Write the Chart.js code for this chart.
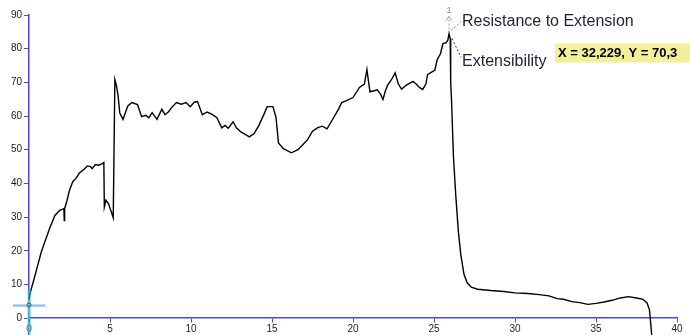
<!DOCTYPE html>
<html>
<head>
<meta charset="utf-8">
<script src="https://cdn.jsdelivr.net/npm/chart.js@4"></script>
<style>
  html, body { margin: 0; padding: 0; background: #fff; }
  #wrap { width: 690px; height: 335px; position: relative; }
</style>
</head>
<body>
<div id="wrap"><canvas id="curve"></canvas></div>
<script>
// extension (x) and force (y)
var extension = [0, 0.1, 0.25, 0.5, 0.75, 1.0, 1.3, 1.6, 1.9, 2.15, 2.18, 2.2, 2.35, 2.5, 2.7, 2.9, 3.1, 3.4, 3.6, 3.8, 3.9, 4.1, 4.3, 4.5, 4.62,
  4.65, 4.75, 4.9, 5.05, 5.2, 5.3, 5.4, 5.5, 5.6, 5.8, 6.1, 6.35, 6.7, 6.95, 7.2, 7.4, 7.6, 7.9, 8.2, 8.4, 8.6, 8.8, 9.1, 9.4, 9.7, 9.95,
  10.2, 10.4, 10.7, 11.0, 11.3, 11.6, 11.9, 12.1, 12.3, 12.6, 12.8, 13.1, 13.4, 13.6, 13.9, 14.2, 14.5, 14.7, 15.06, 15.25, 15.4, 15.7,
  16.2, 16.6, 16.9, 17.2, 17.5, 17.8, 18.1, 18.4, 18.8, 19.1, 19.3, 19.6, 20.0, 20.4, 20.7, 20.86, 20.95, 21.05, 21.3, 21.5, 21.7, 21.85,
  22.0, 22.15, 22.4, 22.6, 22.8, 23.0, 23.3, 23.7, 23.9, 24.1, 24.3, 24.5, 24.6, 24.9, 25.05, 25.2, 25.4, 25.55, 25.75, 25.85, 25.93,
  26.0, 26.03, 26.08, 26.2, 26.35, 26.5, 26.65, 26.85, 27.05, 27.3, 27.7, 28.5, 29.3, 30.0, 30.8, 31.5, 32.1, 32.6, 33.0, 33.5, 34.0,
  34.5, 35.0, 35.5, 36.0, 36.5, 37.0, 37.5, 37.9, 38.15, 38.3, 38.45];
var force = [5.5, 8, 10.5, 15, 19.5, 23, 27, 30.5, 32, 32.5, 29, 32.5, 35, 38, 40.5, 41.5, 43, 44.2, 45.2, 45, 44.4, 45.6, 45.4, 45.8, 46.2,
  33, 35, 34, 32, 29.8, 70.8, 69, 66, 61, 59, 63, 64, 63.4, 59.8, 60.2, 59.5, 61, 59, 62, 60.4, 61.2, 62.5, 64, 63.5, 64, 62.8,
  64.1, 64.3, 60.4, 61.2, 60.5, 59.5, 56.5, 57.2, 56.4, 58.3, 56.5, 55.2, 54.4, 53.8, 54.8, 57.3, 60.5, 62.8, 62.8, 59.5, 52, 50.3,
  49.1, 50, 51.5, 53, 55.5, 56.5, 57, 56.2, 59.5, 62, 64, 64.6, 65.5, 68.5, 69.5, 73.8, 70.5, 67.2, 67.5, 67.8, 66.5, 64.9,
  67.5, 69.3, 71, 72.8, 69.5, 68, 69.2, 70.3, 69.5, 68.5, 67.9, 69.5, 72.3, 73.2, 73.6, 76.8, 78.5, 81.5, 81.8, 82.5, 84.5,
  83, 70, 65, 48, 36, 26, 19, 13, 10.5, 9.2, 8.6, 8.2, 7.9, 7.5, 7.3, 7.0, 6.6, 5.8, 5.6, 4.9, 4.6,
  4.1, 4.4, 4.8, 5.3, 6.0, 6.4, 6.0, 5.6, 4.5, 2.5, -5.5];

var xTicks = [0, 5, 10, 15, 20, 25, 30, 35, 40];
var yTicks = [0, 10, 20, 30, 40, 50, 60, 70, 80, 90];

var peakLabel = 'Resistance to Extension';
var extLabel = 'Extensibility';
var cursorText = 'X = 32,229, Y = 70,3';
var cursorPoint = { x: 0, y: 3.9 };

var axisBlue = '#4646f5';
var fontFam = "'Liberation Sans', Arial, sans-serif";

var punti = extension.map(function(v, i) { return { x: v, y: force[i] }; });

// annotations: peak marker, labels, yellow readout, cursor cross
var notas = {
    id: 'notas',
    afterDatasetsDraw: function(chart) {
        var c = chart.ctx;
        var sx = chart.scales.x, sy = chart.scales.y;
        var iMax = 0;
        force.forEach(function(v, i) { if (v > force[iMax]) iMax = i; });
        var px = sx.getPixelForValue(extension[iMax]);
        var py = sy.getPixelForValue(force[iMax]);

        c.save();
        // marker arrow with "1"
        c.strokeStyle = '#999';
        c.lineWidth = 1;
        c.setLineDash([2, 2]);
        c.beginPath();
        c.moveTo(px, py); c.lineTo(px, py - 17);
        c.stroke();
        c.setLineDash([]);
        c.beginPath();
        c.moveTo(px - 3, py - 13); c.lineTo(px, py - 17); c.lineTo(px + 3, py - 13);
        c.stroke();
        c.fillStyle = '#888';
        c.font = '9px ' + fontFam;
        c.textAlign = 'center';
        c.textBaseline = 'middle';
        c.fillText('1', px, py - 23);

        // leader lines
        c.setLineDash([2, 2]);
        c.strokeStyle = '#888';
        c.beginPath();
        c.moveTo(px + 2, py - 3); c.lineTo(px + 12, py - 12);
        c.stroke();
        c.strokeStyle = '#333';
        c.beginPath();
        c.moveTo(px + 3, py + 5); c.lineTo(px + 12, py + 24);
        c.stroke();
        c.setLineDash([]);

        c.fillStyle = '#1f1f3a';
        c.font = '16px ' + fontFam;
        c.textAlign = 'left';
        c.fillText(peakLabel, px + 13, py - 12);
        c.fillText(extLabel, px + 13, py + 28);

        // yellow readout box
        c.fillStyle = '#f3f09c';
        c.fillRect(px + 106, py + 10, 200, 19);
        c.fillStyle = '#000';
        c.font = 'bold 13px ' + fontFam;
        c.fillText(cursorText, px + 109, py + 20);

        // cursor cross
        var cx = sx.getPixelForValue(cursorPoint.x);
        var cy = sy.getPixelForValue(cursorPoint.y);
        c.lineWidth = 1;
        c.strokeStyle = '#e060f0';
        c.beginPath(); c.moveTo(cx - 16, cy + 1); c.lineTo(cx + 16, cy + 1); c.stroke();
        c.strokeStyle = '#20d8f0';
        c.beginPath(); c.moveTo(cx - 16, cy); c.lineTo(cx + 16, cy); c.stroke();
        c.strokeStyle = '#70ff70';
        c.beginPath(); c.moveTo(cx - 1, cy - 15); c.lineTo(cx - 1, cy + 28); c.stroke();
        c.strokeStyle = '#20d8f0';
        c.beginPath(); c.moveTo(cx + 1, cy - 15); c.lineTo(cx + 1, cy + 28); c.stroke();
        c.strokeStyle = '#555';
        c.beginPath(); c.arc(cx, cy, 2, 0, Math.PI * 2); c.stroke();
        c.restore();
    }
};

document.addEventListener('DOMContentLoaded', function() {
    var ctx = document.getElementById('curve').getContext('2d');

    new Chart(ctx, {
        type: 'scatter',
        data: {
            datasets: [{
                data: punti,
                showLine: true,
                borderColor: '#000',
                borderWidth: 1.4,
                pointRadius: 0,
                tension: 0,
                clip: false
            }]
        },
        options: {
            responsive: true,
            maintainAspectRatio: false,
            animation: false,
            layout: { padding: { top: 15, right: 13, bottom: 0, left: 0 } },
            plugins: {
                legend: { display: false },
                tooltip: { enabled: false }
            },
            scales: {
                x: {
                    type: 'linear',
                    position: { y: 0 },
                    min: 0,
                    max: 40,
                    afterBuildTicks: function(s) { s.ticks = xTicks.map(function(v) { return { value: v }; }); },
                    afterFit: function(s) { s.paddingLeft = 0; s.paddingRight = 0; s.paddingTop = 0; s.paddingBottom = 0; },
                    border: { color: axisBlue, width: 1.5 },
                    grid: { drawOnChartArea: false, color: axisBlue, tickLength: 4 },
                    ticks: { color: '#222', padding: 1, font: { size: 10, family: fontFam }, maxRotation: 0 }
                },
                y: {
                    min: -5,
                    max: 90,
                    afterBuildTicks: function(s) { s.ticks = yTicks.map(function(v) { return { value: v }; }); },
                    afterFit: function(s) { s.width = 29; s.paddingTop = 0; s.paddingBottom = 0; },
                    border: { color: axisBlue, width: 1.5 },
                    grid: { drawOnChartArea: false, color: axisBlue, tickLength: 5 },
                    ticks: { color: '#222', padding: 2, font: { size: 10, family: fontFam } }
                }
            }
        },
        plugins: [notas]
    });
});
</script>
</body>
</html>
